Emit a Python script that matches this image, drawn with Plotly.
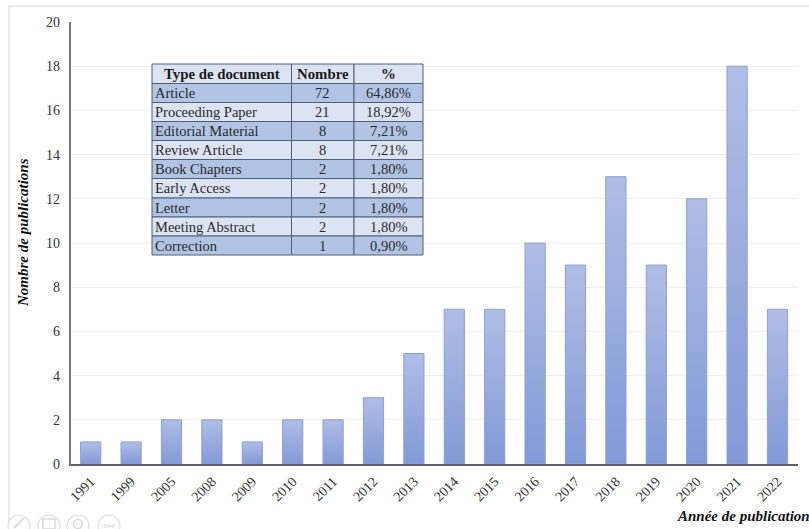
import plotly.graph_objects as go

years = ["1991","1999","2005","2008","2009","2010","2011","2012","2013","2014","2015","2016","2017","2018","2019","2020","2021","2022"]
publications = [1,1,2,2,1,2,2,3,5,7,7,10,9,13,9,12,18,7]

doc_types = ["Article","Proceeding Paper","Editorial Material","Review Article","Book Chapters","Early Access","Letter","Meeting Abstract","Correction"]
doc_counts = ["72","21","8","8","2","2","2","2","1"]
doc_shares = ["64,86%","18,92%","7,21%","7,21%","1,80%","1,80%","1,80%","1,80%","0,90%"]
table_headers = ["Type de document","Nombre","%"]

W, H = 809, 529
FONT = "Liberation Serif"
px = lambda v: v / W
py = lambda v: 1 - v / H

fig = go.Figure()
fig.add_trace(go.Bar(
    x=years, y=publications, width=0.5,
    marker=dict(color="#98A9DB", line=dict(color="#8A9FD6", width=1)),
    hoverinfo="x+y", showlegend=False,
))

def page_line(x0, y0, x1, y1, color="#E2E2E2", width=1.5):
    return dict(type="line", xref="paper", yref="paper", x0=px(x0), x1=px(x1), y0=py(y0), y1=py(y1),
                line=dict(color=color, width=width), layer="below")
def page_circle(cx, cy, r, color="#E0E0E0", width=1.2):
    return dict(type="circle", xref="paper", yref="paper", x0=px(cx-r), x1=px(cx+r), y0=py(cy+r), y1=py(cy-r),
                line=dict(color=color, width=width), fillcolor="rgba(0,0,0,0)", layer="below")

# frame (top and left edges only) and faded toolbar buttons
shapes = [page_line(9, 6, 809, 6), page_line(9, 6, 9, 523)]
for cx in [19, 49, 78, 109]:
    shapes.append(page_circle(cx, 526, 11))
shapes.append(page_line(14, 528, 24, 518, "#DADADA", 2))
shapes.append(dict(type="rect", xref="paper", yref="paper", x0=px(43), x1=px(55), y0=py(529), y1=py(519),
                   line=dict(color="#DADADA", width=1.5), fillcolor="rgba(0,0,0,0)", layer="below"))
shapes.append(page_circle(78, 524, 4.5, "#DADADA", 1.5))
for cx in [105, 109, 113]:
    shapes.append(page_circle(cx, 526, 1.4, "#DADADA", 1))

# table drawn cell by cell
col_edges = [152, 291.5, 354, 423]
row_edges = [64, 83.5, 102.5, 121.5, 140.5, 159.5, 178.5, 198, 217, 236, 255]
annotations = []
def cell_shape(x0, x1, y0, y1, fill):
    return dict(type="rect", xref="paper", yref="paper", x0=px(x0), x1=px(x1), y0=py(y1), y1=py(y0),
                fillcolor=fill, line=dict(color="#4F5E7A", width=1), layer="above")
def cell_text(text, x, y, anchor, size, color):
    return dict(text=text, xref="paper", yref="paper", x=px(x), y=py(y), xanchor=anchor, yanchor="middle",
                showarrow=False, font=dict(family=FONT, size=size, color=color))
for c in range(3):
    x0, x1 = col_edges[c], col_edges[c + 1]
    shapes.append(cell_shape(x0, x1, row_edges[0], row_edges[1], "#DCE4F3"))
    annotations.append(cell_text(f"<b>{table_headers[c]}</b>", (x0 + x1) / 2, (row_edges[0] + row_edges[1]) / 2, "center", 14.8, "#1A1A1A"))
for r, row in enumerate(zip(doc_types, doc_counts, doc_shares)):
    y0, y1 = row_edges[r + 1], row_edges[r + 2]
    fill = "#B1C4E4" if r % 2 == 0 else "#DCE4F3"
    for c in range(3):
        x0, x1 = col_edges[c], col_edges[c + 1]
        shapes.append(cell_shape(x0, x1, y0, y1, fill))
        if c == 0:
            annotations.append(cell_text(row[c], x0 + 1, (y0 + y1) / 2, "left", 14.5, "#2A2A2A"))
        else:
            annotations.append(cell_text(row[c], (x0 + x1) / 2, (y0 + y1) / 2, "center", 14.5, "#2A2A2A"))

annotations += [
    dict(text="<b><i>Nombre de publications</i></b>", xref="paper", yref="paper", x=px(23), y=py(233),
         xanchor="center", yanchor="middle", textangle=-90, showarrow=False,
         font=dict(family=FONT, size=15, color="#111111")),
    dict(text="<b><i>Année de publication</i></b>", xref="paper", yref="paper", x=px(675), y=py(516),
         xanchor="left", yanchor="middle", showarrow=False, font=dict(family=FONT, size=15, color="#111111")),
]

fig.update_layout(
    width=W, height=H, margin=dict(l=0, r=0, t=0, b=0, pad=0, autoexpand=False),
    paper_bgcolor="white", plot_bgcolor="white",
    font=dict(family=FONT, color="#333333", size=13.5),
    bargap=0.5, shapes=shapes, annotations=annotations,
    xaxis=dict(domain=[px(70.5), px(797.7)], type="category", categoryorder="array", categoryarray=years,
               tickangle=-45, ticks="", showline=True, linecolor="#5F6270", linewidth=1.5,
               showgrid=False, automargin=False, ticklabelstandoff=2,
               tickfont=dict(family=FONT, size=14, color="#333333")),
    yaxis=dict(domain=[py(464), py(22)], range=[0, 20], dtick=2, ticks="", showline=True,
               linecolor="#77797F", linewidth=1.5, showgrid=True, gridcolor="#EFEFEF", gridwidth=1,
               zeroline=False, automargin=False, ticklabelstandoff=6,
               tickfont=dict(family=FONT, size=14, color="#333333")),
)

gradient_js = """
var svg = document.querySelector('.main-svg');
var ns = 'http://www.w3.org/2000/svg';
var defs = svg.querySelector('defs') || svg.insertBefore(document.createElementNS(ns,'defs'), svg.firstChild);
var g = document.createElementNS(ns,'linearGradient');
g.setAttribute('id','barFade'); g.setAttribute('x1','0'); g.setAttribute('y1','0'); g.setAttribute('x2','0'); g.setAttribute('y2','1');
[['0','#B0BEE6'],['1','#8299D6']].forEach(function(s){var e=document.createElementNS(ns,'stop');e.setAttribute('offset',s[0]);e.setAttribute('stop-color',s[1]);g.appendChild(e);});
defs.appendChild(g);
document.querySelectorAll('.bars .point path').forEach(function(p){p.style.fill='url(#barFade)';});
document.body.style.margin='0';
"""
fig.write_html("out.html", post_script=gradient_js, config={"displayModeBar": False})
